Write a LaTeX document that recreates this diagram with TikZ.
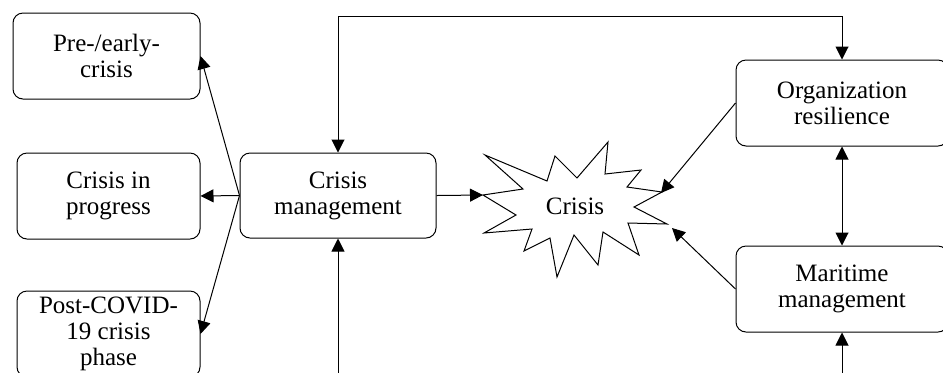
\documentclass[tikz,border=0pt]{standalone}
\usepackage{fontspec}
\setmainfont{Liberation Serif}
\usetikzlibrary{arrows.meta}
\begin{document}
\begin{tikzpicture}[x=0.5pt,y=-0.5pt,
  box/.style={draw,rounded corners=5pt,line width=0.5pt,align=center,
    font=\fontsize{12.5}{13}\selectfont,inner sep=0pt,minimum height=43pt},
  tip/.style={Triangle[length=6.5pt,width=6.5pt]},
  conn/.style={line width=0.5pt,-{Triangle[length=6.5pt,width=6.5pt]}},
  dconn/.style={line width=0.5pt,{Triangle[length=6.5pt,width=6.5pt]}-{Triangle[length=6.5pt,width=6.5pt]}},
  burst/.style={draw,line width=0.5pt,fill=white,line join=miter},
  lbl/.style={font=\fontsize{12.5}{13}\selectfont,inner sep=0pt}]
\useasboundingbox (0,0) rectangle (943,372);

% boxes
\node[box,minimum width=93.5pt] (pre) at (106.5,56) {Pre-/early-\\crisis};
\node[box,minimum width=91.5pt] (prog) at (108.5,196) {Crisis in\\progress};
\node[box,minimum width=91.5pt,minimum height=43pt] (post) at (108.5,334) {Post-COVID-\\19 crisis\\phase};
\node[box,minimum width=98pt,minimum height=42.5pt] (cm) at (338,195.5) {Crisis\\management};
\node[box,minimum width=106pt] (org) at (842,103) {Organization\\resilience};
\node[box,minimum width=106pt] (mar) at (842,289) {Maritime\\management};

% starburst
\draw[burst] (485,155) -- (547,181) -- (555,156) -- (577,178) -- (608,142)
  -- (605,174) -- (641,170) -- (627,187) -- (662,192) -- (634,207)
  -- (667,224) -- (628,223) -- (639,255) -- (603,232) -- (598,265)
  -- (574,235) -- (557,277) -- (550,238) -- (524,251) -- (532,229)
  -- (484,233) -- (516,215) -- (483,195) -- (523,189) -- cycle;
\node[lbl] (crisis) at (575,206) {Crisis};
\coordinate (bL) at (483,195);
\coordinate (bR1) at (661,193);
\coordinate (bR2) at (672,228);

% connectors
\draw[conn] (cm.west) -- (pre.east);
\draw[conn] (cm.west) -- (prog.east);
\draw[conn] (cm.west) -- (post.east);
\draw[conn] (cm.east) -- (bL);
\draw[conn] (org.west) -- (bR1);
\draw[conn] (mar.west) -- (bR2);
\draw[dconn] (org.south) -- (mar.north);

\coordinate (top) at (0,16);
\draw[dconn] (cm.north) -- (cm.north |- top) -| (org.north);

\coordinate (bot) at (0,390);
\draw[conn] (cm.south |- bot) -- (cm.south);
\draw[conn] (mar.south |- bot) -- (mar.south);
\end{tikzpicture}
\end{document}
